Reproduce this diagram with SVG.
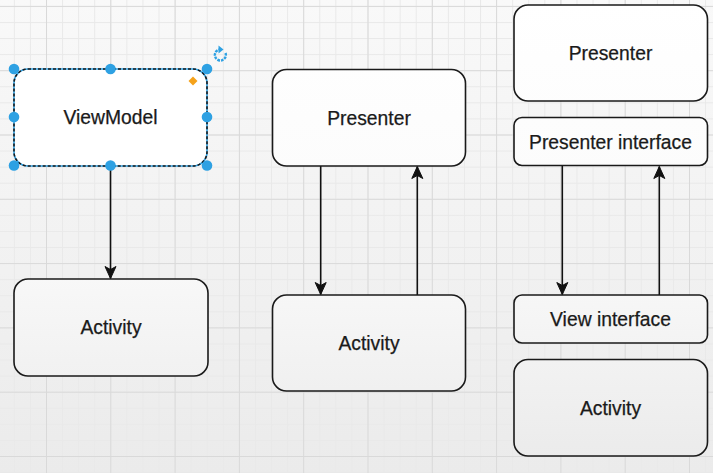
<svg xmlns="http://www.w3.org/2000/svg" width="713" height="473" viewBox="0 0 713 473">
<defs>
<style>
.box{stroke:#1a1a1a;stroke-width:1.6;fill:url(#boxfill)}
.lbl{font-family:"Liberation Sans",Arial,sans-serif;font-size:19.3px;fill:#1a1a1a;text-anchor:middle;stroke:#1a1a1a;stroke-width:0.25}
.edge{stroke:#111;stroke-width:1.6;fill:none;marker-end:url(#arr)}
.handle{fill:#2ea1e3}
</style>
<linearGradient id="bg" x1="0" y1="0" x2="0" y2="473" gradientUnits="userSpaceOnUse">
<stop offset="0" stop-color="#f9f9f9"/><stop offset="1" stop-color="#ebebeb"/>
</linearGradient>
<linearGradient id="boxfill" x1="0" y1="0" x2="0" y2="473" gradientUnits="userSpaceOnUse">
<stop offset="0" stop-color="#ffffff"/><stop offset="0.5" stop-color="#fbfbfb"/><stop offset="1" stop-color="#eaeaea"/>
</linearGradient>
<pattern id="minor" x="13.85" y="5.9" width="16.075" height="16.075" patternUnits="userSpaceOnUse">
<rect x="0" y="0" width="16.075" height="1" fill="#e9e9e9"/>
<rect x="0" y="0" width="1" height="16.075" fill="#e9e9e9"/>
</pattern>
<pattern id="major" x="46" y="5.9" width="64.3" height="64.3" patternUnits="userSpaceOnUse">
<rect x="0" y="0" width="64.3" height="1" fill="#d9d9d9"/>
<rect x="0" y="0" width="1" height="64.3" fill="#d9d9d9"/>
</pattern>
<marker id="arr" markerUnits="userSpaceOnUse" markerWidth="14" markerHeight="14" viewBox="-13 -7 14 14" refX="0" refY="0" orient="auto">
<path d="M-12,-5.5 L0,0 L-12,5.5 L-9,0 z" fill="#111" stroke="#111" stroke-width="1"/>
</marker>
</defs>
<rect width="713" height="473" fill="url(#bg)"/>
<rect width="713" height="473" fill="url(#minor)"/>
<rect width="713" height="473" fill="url(#major)"/>

<g id="connectors">
<line class="edge" x1="110.5" y1="166" x2="110.5" y2="278.5"/>
<line class="edge" x1="320.7" y1="166" x2="320.7" y2="294.5"/>
<line class="edge" x1="417.3" y1="295" x2="417.3" y2="166.5"/>
<line class="edge" x1="562.3" y1="166" x2="562.3" y2="294.5"/>
<line class="edge" x1="659.3" y1="295" x2="659.3" y2="166.5"/>
</g>

<g id="viewmodel">
<rect x="14" y="69" width="193" height="97" rx="14" fill="#ffffff" stroke="#2ea1e3" stroke-width="1.6"/>
<rect x="14" y="69" width="193" height="97" rx="14" fill="none" stroke="#1a1a1a" stroke-width="1.6" stroke-dasharray="3 2"/>
<text class="lbl" x="110.5" y="124">ViewModel</text>
</g>

<g id="selection-handles">
<circle class="handle" cx="14" cy="69" r="5.3"/>
<circle class="handle" cx="110.5" cy="69" r="5.3"/>
<circle class="handle" cx="207" cy="69" r="5.3"/>
<circle class="handle" cx="14" cy="117" r="5.3"/>
<circle class="handle" cx="207" cy="117" r="5.3"/>
<circle class="handle" cx="14" cy="165.5" r="5.3"/>
<circle class="handle" cx="110.5" cy="165.5" r="5.3"/>
<circle class="handle" cx="207" cy="165.5" r="5.3"/>
<path d="M193,76.5 L197.5,81 L193,85.5 L188.5,81 z" fill="#f5a21b"/>
<path d="M225.5,53 A5.5,5.5 0 1 1 220,49.5" fill="none" stroke="#2ea1e3" stroke-width="2.4" stroke-dasharray="2.6 1"/>
<path d="M218.5,45.5 L223.5,49.5 L218.5,53.5 z" fill="#2ea1e3"/>
</g>

<g id="activity1">
<rect class="box" x="14" y="279" width="194" height="97" rx="14"/>
<text class="lbl" x="111" y="334">Activity</text>
</g>

<g id="presenter2">
<rect class="box" x="272.5" y="69.5" width="193" height="96.5" rx="14"/>
<text class="lbl" x="369" y="124.5">Presenter</text>
</g>

<g id="activity2">
<rect class="box" x="272.5" y="295" width="193" height="96" rx="14"/>
<text class="lbl" x="369" y="350">Activity</text>
</g>

<g id="presenter3">
<rect class="box" x="514" y="5" width="193.5" height="96" rx="14"/>
<text class="lbl" x="610.5" y="60">Presenter</text>
</g>

<g id="presenter-interface">
<rect class="box" x="514" y="117.5" width="193.5" height="48" rx="8"/>
<text class="lbl" x="610.5" y="148.5">Presenter interface</text>
</g>

<g id="view-interface">
<rect class="box" x="514" y="295" width="193.5" height="48" rx="8"/>
<text class="lbl" x="610.5" y="326">View interface</text>
</g>

<g id="activity3">
<rect class="box" x="514" y="359.5" width="193.5" height="96.5" rx="14"/>
<text class="lbl" x="610.5" y="414.5">Activity</text>
</g>
</svg>
